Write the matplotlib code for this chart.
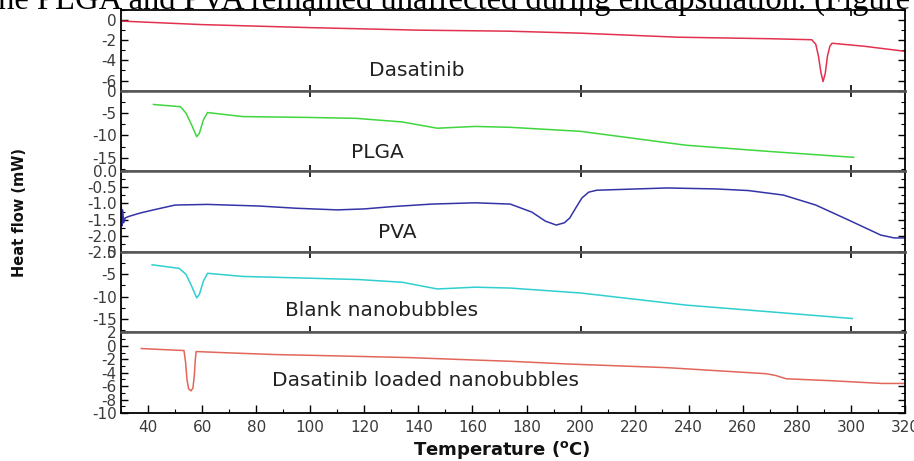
import matplotlib
matplotlib.use("Agg")
import matplotlib.pyplot as plt
from matplotlib.ticker import MultipleLocator, FormatStrFormatter

plt.rcParams['axes.unicode_minus'] = False
plt.rcParams['font.family'] = ['DejaVu Sans']

# ---------------- data ----------------
dasa_T = [30, 60, 100, 140, 173, 200, 236, 270, 285.5, 287.0, 288.0, 288.9, 289.7, 290.5, 291.3, 292.2, 293, 305, 320]
dasa_H = [-0.1, -0.45, -0.75, -1.0, -1.1, -1.3, -1.7, -1.85, -1.95, -2.4, -3.6, -5.2, -6.1, -5.3, -3.6, -2.6, -2.3, -2.6, -3.1]

plga_T = [42, 52, 54, 56, 58, 59, 60.5, 62, 75, 100, 117, 134, 147, 161, 174, 200, 239, 270, 301]
plga_H = [-3.1, -3.6, -5.0, -7.5, -10.3, -9.5, -6.5, -4.9, -5.8, -6.0, -6.2, -7.0, -8.4, -8.0, -8.2, -9.1, -12.2, -13.6, -14.9]

pva_T = [30.0, 30.3, 30.6, 31, 31.5, 33, 37, 42, 50, 62, 81, 95, 110, 120, 130, 145, 161, 174, 182, 187, 191,
         194, 196, 198.5, 200.5, 203, 206, 232, 250, 262, 275, 287, 299, 311, 316, 320]
pva_H = [-0.7, -1.7, -1.2, -1.6, -1.45, -1.4, -1.3, -1.2, -1.05, -1.03, -1.08, -1.15, -1.2, -1.17, -1.1, -1.02,
         -0.98, -1.02, -1.27, -1.55, -1.67, -1.6, -1.45, -1.1, -0.83, -0.65, -0.59, -0.52, -0.55, -0.6, -0.74,
         -1.05, -1.51, -1.98, -2.07, -2.07]

blank_T = [41.5, 51.5, 54, 56, 58, 59, 60.5, 62, 75, 100, 118, 134, 147, 161, 174, 200, 239, 270, 300.5]
blank_H = [-2.9, -3.7, -5.0, -7.5, -10.3, -9.5, -6.5, -4.8, -5.5, -5.9, -6.2, -6.8, -8.3, -7.9, -8.1, -9.2, -11.9, -13.4, -14.9]

load_T = [37.5, 45, 53.3, 53.9, 54.4, 55.0, 55.9, 56.6, 57.1, 57.5, 57.8, 70, 87, 110, 136.5, 160, 174, 195,
          232, 268.6, 272, 276, 293, 311.5, 320]
load_H = [-0.4, -0.55, -0.7, -2.5, -5.0, -6.4, -6.7, -6.3, -4.5, -2.0, -0.85, -1.05, -1.3, -1.5, -1.75, -2.1,
          -2.3, -2.7, -3.25, -4.15, -4.4, -4.9, -5.2, -5.6, -5.6]

names = ["Dasatinib", "PLGA", "PVA", "Blank nanobubbles", "Dasatinib loaded nanobubbles"]
x_ticks = [40, 60, 80, 100, 120, 140, 160, 180, 200, 220, 240, 260, 280, 300, 320]

# ---------------- styling ----------------
series = [(dasa_T, dasa_H), (plga_T, plga_H), (pva_T, pva_H), (blank_T, blank_H), (load_T, load_H)]
colors = ["#e3324f", "#3fd63f", "#3434a8", "#2fcfd0", "#e2675a"]
ylims = [(-7, 1), (-18, 0), (-2.5, 0), (-18, 0), (-10, 2)]
major = [2, 5, 0.5, 5, 2]
minor = [1, 2.5, 0.25, 2.5, 1]
fmts = ["%d", "%d", "%.1f", "%d", "%d"]
label_pos = [(417, 70), (377, 153), (397, 232), (382, 311), (425, 380)]

W, H = 914, 461
fig = plt.figure(figsize=(W / 100, H / 100), dpi=100)
left, right, top, bottom = 121 / W, 905 / W, 1 - 10 / H, 1 - 413 / H
gs = fig.add_gridspec(5, 1, left=left, right=right, top=top, bottom=bottom, hspace=0)

tick_col = "#3a3a3a"
axes = []
for i in range(5):
    ax = fig.add_subplot(gs[i, 0])
    axes.append(ax)
    T, Hh = series[i]
    ax.plot(T, Hh, color=colors[i], lw=1.1)
    ax.set_xlim(30, 320)
    ax.set_ylim(*ylims[i])
    ax.yaxis.set_major_locator(MultipleLocator(major[i]))
    ax.yaxis.set_minor_locator(MultipleLocator(minor[i]))
    ax.yaxis.set_major_formatter(FormatStrFormatter(fmts[i]))
    ax.tick_params(axis='y', which='both', direction='in', left=True, right=True,
                   labelsize=11, labelcolor=tick_col, pad=3)
    ax.tick_params(axis='y', which='major', length=5, width=1)
    ax.tick_params(axis='y', which='minor', length=3, width=0.8)
    for s in ax.spines.values():
        s.set_linewidth(1.3)
        s.set_color("black")
    if i > 0:
        ax.spines['top'].set_color("#555555")
        ax.spines['top'].set_linewidth(1.8)
    if i < 4:
        ax.spines['bottom'].set_color("#555555")
        ax.spines['bottom'].set_linewidth(1.8)
        ax.set_xticks([100, 200, 300])
        ax.tick_params(axis='x', which='both', direction='in', top=True, bottom=True,
                       labelbottom=False, length=4, width=1.2)
    else:
        ax.set_xticks(x_ticks)
        ax.xaxis.set_minor_locator(MultipleLocator(10))
        ax.tick_params(axis='x', which='both', direction='in', top=False, bottom=True,
                       labelsize=11, labelcolor=tick_col, pad=5)
        ax.tick_params(axis='x', which='major', length=6, width=1)
        ax.tick_params(axis='x', which='minor', length=3, width=0.8)
    px, py = label_pos[i]
    fig.text(px / W, 1 - py / H, names[i], ha='center', va='center',
             fontsize=14.5, color="#222222")

fig.text(20 / W, 1 - 212 / H, "Heat flow (mW)", rotation=90, ha='center', va='center',
         fontsize=10.5, fontweight='bold', color="#111111")
fig.text(502 / W, 1 - 450 / H, "Temperature ($\\mathregular{^o}$C)", ha='center', va='center',
         fontsize=13, fontweight='bold', color="#111111")

# clipped line of document text at the top of the picture
fig.text(-11 / W, 1 - 8.5 / H, "the PLGA and PVA remained unaffected during encapsulation. (Figure 4",
         ha='left', va='baseline', fontsize=23.5, family='Liberation Serif', color='black')

fig.savefig("out.png", dpi=100)
